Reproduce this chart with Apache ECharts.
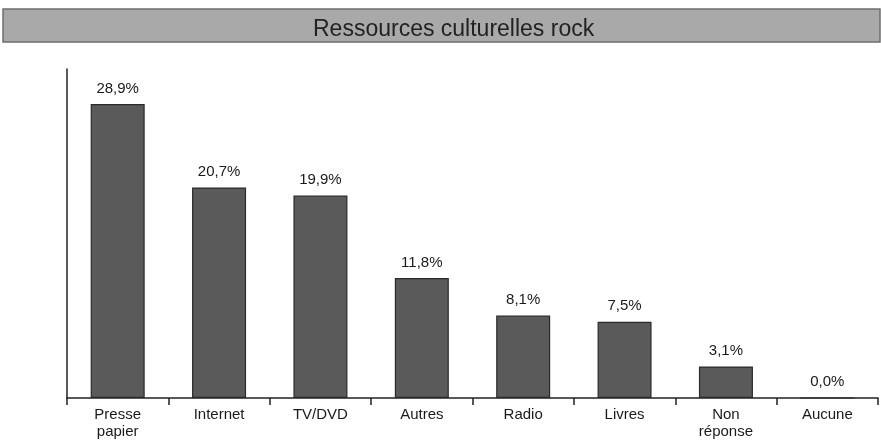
<!DOCTYPE html>
<html>
<head>
<meta charset="utf-8">
<script src="https://cdn.jsdelivr.net/npm/echarts@6/dist/echarts.min.js"></script>
<style>
    html, body { margin: 0; padding: 0; background: #fff; }
    #chart { width: 881px; height: 441px; }
</style>
</head>
<body>
<div id="chart"></div>
<script>
var categories = ["Presse\npapier", "Internet", "TV/DVD", "Autres", "Radio", "Livres", "Non\nréponse", "Aucune"];
var values = [28.9, 20.7, 19.9, 11.8, 8.1, 7.5, 3.1, 0.0];

var font = "'Liberation Sans', Arial, sans-serif";

var option = {
    animation : false,
    backgroundColor : "#fff",
    graphic : [{
        type : "rect",
        shape : { x : 3, y : 9, width : 877, height : 33 },
        style : { fill : "#a9a9a9", stroke : "#6e6e6e", lineWidth : 1.5 }
    }],
    title : {
        text : "Ressources culturelles rock",
        left : 308,
        top : 13,
        textStyle : {
            fontFamily : font,
            fontSize : 23,
            fontWeight : "normal",
            color : "#222"
        }
    },
    grid : {
        left : 67,
        right : 3,
        top : 69,
        bottom : 43
    },
    xAxis : {
        type : "category",
        data : categories,
        axisLine : { lineStyle : { color : "#222", width : 1.5 } },
        axisTick : {
            show : true,
            alignWithLabel : false,
            length : 7,
            lineStyle : { color : "#222", width : 1.5 }
        },
        axisLabel : {
            fontFamily : font,
            fontSize : 15,
            color : "#1a1a1a",
            margin : 8,
            lineHeight : 17,
            interval : 0
        }
    },
    yAxis : {
        type : "value",
        min : 0,
        max : 32.35,
        axisLine : { show : true, lineStyle : { color : "#222", width : 1.5 } },
        axisTick : { show : false },
        axisLabel : { show : false },
        splitLine : { show : false }
    },
    series : [
        {
            type : "bar",
            data : values,
            barWidth : 54,
            itemStyle : {
                color : "#5a5a5a",
                borderColor : "#2a2a2a",
                borderWidth : 1.2
            },
            label : {
                show : true,
                position : "top",
                distance : 8,
                fontFamily : font,
                fontSize : 15,
                color : "#1a1a1a",
                formatter : function (p) {
                    return p.value.toFixed(1).replace(".", ",") + "%";
                }
            }
        }
    ]
};

var chart = echarts.init(document.getElementById("chart"));
chart.setOption(option);
</script>
</body>
</html>
